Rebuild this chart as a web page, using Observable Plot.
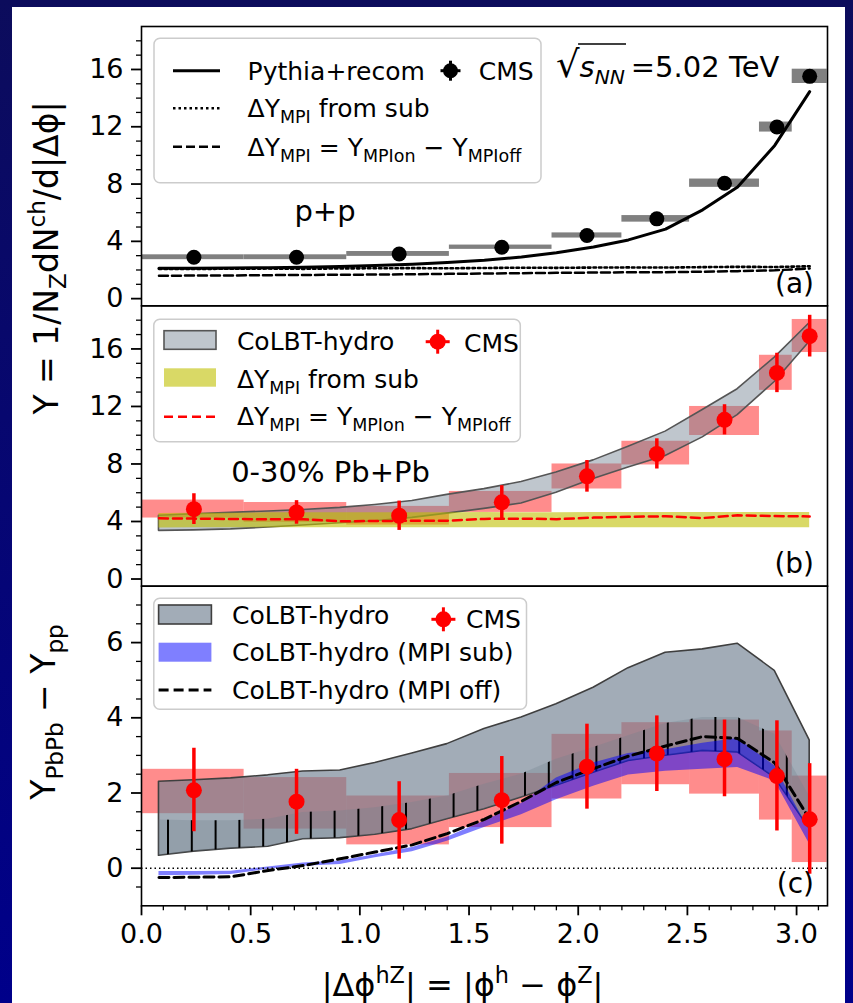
<!DOCTYPE html>
<html><head><meta charset="utf-8">
<script src="https://cdn.jsdelivr.net/npm/d3@7"></script>
<script src="https://cdn.jsdelivr.net/npm/@observablehq/plot@0.6"></script>
<style>
html,body{margin:0;padding:0;background:#000080;}
#wrap{position:relative;width:853px;height:1003px;overflow:hidden;background:linear-gradient(#0c0c5c,#00008a);}
#paper{position:absolute;left:12px;top:7px;width:833px;height:1010px;background:#fff;}
#wrap svg{position:absolute;left:0;top:0;}
</style></head><body><div id="wrap"><div id="paper"></div></div>
<script>
// ---------- data ----------
const binLo  = [0, 0.47, 0.94, 1.41, 1.88, 2.20, 2.51, 2.83, 2.98];
const binHi  = [0.47, 0.94, 1.41, 1.88, 2.20, 2.51, 2.83, 2.98, 3.14];
const binMid = [0.24, 0.71, 1.18, 1.65, 2.04, 2.36, 2.67, 2.91, 3.06];

// (a) p+p CMS
const ppY    = [2.89, 2.89, 3.12, 3.59, 4.41, 5.57, 8.06, 11.98, 15.52];
const ppStat = [0.15, 0.15, 0.15, 0.15, 0.15, 0.2, 0.25, 0.3, 0.35];
const ppSys  = [0.17, 0.17, 0.17, 0.15, 0.18, 0.23, 0.29, 0.35, 0.5];

// (b) 0-30% Pb+Pb CMS
const pbY     = [4.86, 4.63, 4.40, 5.33, 7.14, 8.70, 11.07, 14.33, 16.89];
const pbStat  = [1.07, 0.82, 1.02, 1.16, 1.10, 1.05, 1.05, 1.37, 1.45];
const pbSysLo = [4.24, 3.93, 3.75, 4.63, 6.26, 7.93, 9.98, 13.12, 15.75];
const pbSysHi = [5.49, 5.32, 5.05, 6.09, 8.00, 9.58, 12.00, 15.56, 18.05];

// (c) Y_PbPb - Y_pp CMS
const dY      = [2.07, 1.77, 1.28, 1.81, 2.70, 3.05, 2.90, 2.45, 1.30];
const dStatLo = [0.97, 0.90, 0.24, 0.64, 1.57, 2.04, 1.90, 0.99, -0.16];
const dStatHi = [3.19, 2.63, 2.30, 2.97, 3.83, 4.05, 3.94, 3.92, 2.78];
const dSysLo  = [1.45, 1.04, 0.62, 1.08, 1.84, 2.22, 1.97, 1.28, 0.15];
const dSysHi  = [2.63, 2.41, 1.92, 2.52, 3.56, 3.87, 3.94, 3.65, 2.45];

// model curves
const modelX = [0.08, 0.24, 0.41, 0.58, 0.74, 0.91, 1.07, 1.24, 1.40, 1.57, 1.74, 1.90, 2.07, 2.23, 2.40, 2.57, 2.73, 2.90, 3.06];
const pythiaRecom = [2.13, 2.13, 2.14, 2.16, 2.2, 2.25, 2.32, 2.4, 2.52, 2.68, 2.9, 3.2, 3.6, 4.1, 4.85, 6.2, 7.8, 10.7, 14.45];
const mpiSubPP    = [2.08, 2.07, 2.09, 2.1, 2.08, 2.11, 2.12, 2.13, 2.12, 2.14, 2.16, 2.15, 2.17, 2.18, 2.17, 2.2, 2.22, 2.21, 2.26];
const mpiOnOffPP  = [1.6, 1.61, 1.62, 1.64, 1.65, 1.67, 1.68, 1.7, 1.73, 1.75, 1.78, 1.8, 1.82, 1.84, 1.85, 1.88, 1.92, 1.98, 2.1];

const colbtHiB  = [4.40, 4.50, 4.60, 4.70, 4.80, 4.95, 5.15, 5.42, 5.85, 6.25, 6.75, 7.40, 8.25, 9.20, 10.25, 11.75, 13.2, 15.4, 17.8];
const colbtLoB  = [3.35, 3.38, 3.45, 3.58, 3.72, 3.88, 4.02, 4.25, 4.55, 4.88, 5.25, 6.00, 6.95, 7.75, 8.55, 9.85, 11.4, 13.7, 16.5];
const mpiSubLoB = [3.55, 3.56, 3.56, 3.57, 3.57, 3.56, 3.56, 3.57, 3.57, 3.56, 3.56, 3.57, 3.57, 3.56, 3.56, 3.57, 3.57, 3.56, 3.56];
const mpiSubHiB = [4.56, 4.57, 4.58, 4.6, 4.6, 4.6, 4.6, 4.6, 4.61, 4.62, 4.6, 4.6, 4.62, 4.62, 4.62, 4.63, 4.63, 4.63, 4.63];
const mpiOnOffB = [4.22, 4.2, 4.17, 4.16, 4.15, 4.02, 4.03, 4.05, 4.05, 4.18, 4.2, 4.16, 4.27, 4.33, 4.36, 4.24, 4.43, 4.38, 4.35];

const colbtHiC  = [2.30, 2.34, 2.39, 2.47, 2.57, 2.60, 2.80, 3.05, 3.30, 3.70, 4.01, 4.36, 4.80, 5.32, 5.73, 5.82, 5.97, 5.25, 3.40];
const colbtLoC  = [0.33, 0.44, 0.52, 0.57, 0.77, 0.80, 0.89, 1.04, 1.30, 1.57, 1.88, 2.19, 2.54, 2.85, 2.99, 3.12, 3.08, 2.41, 1.04];
const colbtMidC = [1.28, 1.26, 1.26, 1.30, 1.48, 1.52, 1.61, 1.75, 1.92, 2.23, 2.50, 2.90, 3.21, 3.52, 3.85, 4.01, 4.01, 3.56, 1.90];
const mpiSubLoC = [-0.20, -0.19, -0.17, -0.03, 0.05, 0.10, 0.28, 0.44, 0.72, 1.08, 1.42, 1.82, 2.18, 2.48, 2.58, 2.63, 2.68, 2.32, 0.64];
const mpiSubHiC = [-0.09, -0.09, -0.08, 0.03, 0.14, 0.19, 0.36, 0.55, 0.82, 1.25, 1.72, 2.40, 2.80, 3.05, 3.15, 3.32, 3.45, 2.72, 0.99];
const mpiOffC   = [-0.25, -0.24, -0.23, -0.06, 0.07, 0.25, 0.43, 0.62, 0.92, 1.30, 1.78, 2.28, 2.65, 2.98, 3.25, 3.50, 3.45, 2.80, 1.30];

// ticks
const yMajorAB = [0, 4, 8, 12, 16];
const yMinorAB = [1, 2, 3, 5, 6, 7, 9, 10, 11, 13, 14, 15, 17, 18];
const yMajorC  = [0, 2, 4, 6];
const yMinorC  = [-0.5, 0.5, 1, 1.5, 2.5, 3, 3.5, 4.5, 5, 5.5, 6.5, 7];
const xMajor   = [0, 0.5, 1.0, 1.5, 2.0, 2.5, 3.0];
const xMinor   = [0.1, 0.2, 0.3, 0.4, 0.6, 0.7, 0.8, 0.9, 1.1, 1.2, 1.3, 1.4, 1.6, 1.7, 1.8, 1.9, 2.1, 2.2, 2.3, 2.4, 2.6, 2.7, 2.8, 2.9, 3.1];

// ---------- tables ----------
const ppTab = binMid.map((x, i) => ({x, lo: binLo[i], hi: binHi[i], y: ppY[i], stat: ppStat[i], sys: ppSys[i]}));
const pbTab = binMid.map((x, i) => ({x, lo: binLo[i], hi: binHi[i], y: pbY[i], stat: pbStat[i], sLo: pbSysLo[i], sHi: pbSysHi[i]}));
const dTab  = binMid.map((x, i) => ({x, lo: binLo[i], hi: binHi[i], y: dY[i], eLo: dStatLo[i], eHi: dStatHi[i], sLo: dSysLo[i], sHi: dSysHi[i]}));
const mA = modelX.map((x, i) => ({x, pythia: pythiaRecom[i], sub: mpiSubPP[i], onoff: mpiOnOffPP[i]}));
const mB = modelX.map((x, i) => ({x, hi: colbtHiB[i], lo: colbtLoB[i], sLo: mpiSubLoB[i], sHi: mpiSubHiB[i], onoff: mpiOnOffB[i]}));
const mC = modelX.map((x, i) => ({x, hi: colbtHiC[i], lo: colbtLoC[i], mid: colbtMidC[i], sLo: mpiSubLoC[i], sHi: mpiSubHiC[i], off: mpiOffC[i]}));

// ---------- layout ----------
const W = 853, H = 1003, X0 = 141, X1 = 827;
const FONT = "'DejaVu Sans', 'Liberation Sans', sans-serif";
const style = {background: "transparent", fontFamily: FONT, fontSize: "27px", color: "black", overflow: "visible"};

function yAxes(major, minor) {
  return [
    Plot.axisY(minor, {tickSize: 5, tickFormat: () => "", label: null, strokeWidth: 1.3}),
    Plot.axisY(major, {tickSize: 10, tickPadding: 8, label: null, strokeWidth: 1.8}),
    Plot.frame({stroke: "black", strokeWidth: 1.6})
  ];
}
function panel(top, bottom, yDomain, showX, marks) {
  return Plot.plot({
    width: W, height: H,
    marginLeft: X0, marginRight: W - X1, marginTop: top, marginBottom: H - bottom,
    x: showX ? {domain: [0, Math.PI]} : {domain: [0, Math.PI], axis: null},
    y: {domain: yDomain},
    style,
    marks
  });
}

const wrap = document.getElementById("wrap");

// (a)
const plotA = panel(26, 305.3, [-0.5, 19], false, [
  Plot.rect(ppTab, {x1: "lo", x2: "hi", y1: d => d.y - d.sys, y2: d => d.y + d.sys, fill: "#808080"}),
  Plot.line(mA, {x: "x", y: "onoff", stroke: "black", strokeWidth: 2.5, strokeDasharray: "9,4"}),
  Plot.line(mA, {x: "x", y: "sub", stroke: "black", strokeWidth: 2.6, strokeDasharray: "2.5,3"}),
  Plot.line(mA, {x: "x", y: "pythia", stroke: "black", strokeWidth: 3}),
  Plot.ruleX(ppTab, {x: "x", y1: d => d.y - d.stat, y2: d => d.y + d.stat, stroke: "black", strokeWidth: 3}),
  Plot.dot(ppTab, {x: "x", y: "y", r: 7.5, fill: "black"}),
  ...yAxes(yMajorAB, yMinorAB)
]);

// (b)
const plotB = panel(305.3, 585.7, [-0.5, 19], false, [
  Plot.rect(pbTab, {x1: "lo", x2: "hi", y1: "sLo", y2: "sHi", fill: "red", fillOpacity: 0.45}),
  Plot.areaY(mB, {x: "x", y1: "lo", y2: "hi", fill: "#708090", fillOpacity: 0.45, stroke: "#555555", strokeWidth: 1.6}),
  Plot.areaY(mB, {x: "x", y1: "sLo", y2: "sHi", fill: "#bfbf00", fillOpacity: 0.6}),
  Plot.line(mB, {x: "x", y: "onoff", stroke: "red", strokeWidth: 2.5, strokeDasharray: "9,5"}),
  Plot.ruleX(pbTab, {x: "x", y1: d => d.y - d.stat, y2: d => d.y + d.stat, stroke: "red", strokeWidth: 3.5}),
  Plot.dot(pbTab, {x: "x", y: "y", r: 8, fill: "red"}),
  ...yAxes(yMajorAB, yMinorAB)
]);

// (c)
const plotC = panel(585.7, 905.3, [-1, 7.5], true, [
  Plot.rect(dTab, {x1: "lo", x2: "hi", y1: "sLo", y2: "sHi", fill: "red", fillOpacity: 0.45}),
  Plot.areaY(mC, {x: "x", y1: "lo", y2: "hi", fill: "#708090", fillOpacity: 0.65, stroke: "#3f3f3f", strokeWidth: 1.6}),
  Plot.areaY(mC, {x: "x", y1: "lo", y2: "mid", fill: "#708090", fillOpacity: 0.3}),
  Plot.areaY(mC, {x: "x", y1: "lo", y2: "mid", fill: "url(#hatchV)"}),
  Plot.areaY(mC, {x: "x", y1: "sLo", y2: "sHi", fill: "blue", fillOpacity: 0.5}),
  Plot.ruleY([0], {stroke: "black", strokeWidth: 1.5, strokeDasharray: "1.5,3"}),
  Plot.line(mC, {x: "x", y: "off", stroke: "black", strokeWidth: 3, strokeDasharray: "10,5"}),
  Plot.ruleX(dTab, {x: "x", y1: "eLo", y2: "eHi", stroke: "red", strokeWidth: 3.5}),
  Plot.dot(dTab, {x: "x", y: "y", r: 8, fill: "red"}),
  Plot.axisX(xMinor, {tickSize: 5, tickFormat: () => "", label: null, strokeWidth: 1.3}),
  Plot.axisX(xMajor, {tickSize: 10, tickPadding: 8, tickFormat: d3.format(".1f"), label: null, strokeWidth: 1.8}),
  ...yAxes(yMajorC, yMinorC)
]);
{
  const ns = "http://www.w3.org/2000/svg";
  const defs = document.createElementNS(ns, "defs");
  const pat = document.createElementNS(ns, "pattern");
  pat.setAttribute("id", "hatchV");
  pat.setAttribute("patternUnits", "userSpaceOnUse");
  pat.setAttribute("x", "167"); pat.setAttribute("y", "0");
  pat.setAttribute("width", "23.8"); pat.setAttribute("height", "10");
  const r = document.createElementNS(ns, "rect");
  r.setAttribute("x", "0"); r.setAttribute("y", "0"); r.setAttribute("width", "2"); r.setAttribute("height", "10");
  r.setAttribute("fill", "black");
  pat.appendChild(r); defs.appendChild(pat);
  plotC.insertBefore(defs, plotC.firstChild);
}
wrap.append(plotA, plotB, plotC);

// ---------- overlay: legends and labels ----------
const ov = d3.select(wrap).append("svg").attr("width", W).attr("height", H)
  .style("font-family", FONT);

function mtext(x, y, parts, fs, opts = {}) {
  const t = ov.append("text").attr("x", x).attr("y", y).attr("font-size", fs).attr("fill", "black");
  if (opts.anchor) t.attr("text-anchor", opts.anchor);
  if (opts.transform) t.attr("transform", opts.transform).attr("x", 0).attr("y", 0);
  let shift = 0;
  for (const p of parts) {
    const s = t.append("tspan").text(p.t);
    const target = p.sub ? 0.24 * fs : p.sup ? -0.4 * fs : 0;
    if (target !== shift) { s.attr("dy", target - shift); shift = target; }
    if (p.sub || p.sup) s.attr("font-size", fs * 0.7);
    if (p.size) s.attr("font-size", p.size);
    if (p.it) s.attr("font-style", "italic");
  }
  return t;
}
function box(x0, y0, x1, y1) {
  ov.append("rect").attr("x", x0).attr("y", y0).attr("width", x1 - x0).attr("height", y1 - y0)
    .attr("rx", 6).attr("fill", "white").attr("fill-opacity", 0.8).attr("stroke", "#cccccc").attr("stroke-width", 1.5);
}
function hline(x0, x1, y, color, w, dash) {
  const l = ov.append("line").attr("x1", x0).attr("x2", x1).attr("y1", y).attr("y2", y)
    .attr("stroke", color).attr("stroke-width", w);
  if (dash) l.attr("stroke-dasharray", dash);
}
function patch(x0, y0, x1, y1, fill, op, stroke) {
  const r = ov.append("rect").attr("x", x0).attr("y", y0).attr("width", x1 - x0).attr("height", y1 - y0)
    .attr("fill", fill).attr("fill-opacity", op);
  if (stroke) r.attr("stroke", stroke).attr("stroke-width", 1.6);
}
function cms(cx, cy, color, half, r) {
  hline(cx - half, cx + half, cy, color, 3);
  ov.append("line").attr("x1", cx).attr("x2", cx).attr("y1", cy - half).attr("y2", cy + half).attr("stroke", color).attr("stroke-width", 3);
  ov.append("circle").attr("cx", cx).attr("cy", cy).attr("r", r).attr("fill", color);
}
const LF = 25;
const dYmpi = [{t: "ΔY"}, {t: "MPI", sub: true}];
const dYeq = [{t: "ΔY"}, {t: "MPI", sub: true}, {t: " = Y"}, {t: "MPIon", sub: true}, {t: " − Y"}, {t: "MPIoff", sub: true}];

// legend (a)
box(154, 38.3, 541, 182.7);
hline(173, 220, 70.7, "black", 3);
mtext(247.6, 79.8, [{t: "Pythia+recom"}], LF);
cms(450.5, 70.7, "black", 10, 7.5);
mtext(478.8, 79.8, [{t: "CMS"}], LF);
hline(173, 220, 108.3, "black", 2.6, "2.5,3");
mtext(247.6, 117.4, [...dYmpi, {t: " from sub"}], LF);
hline(173, 220, 146.7, "black", 2.5, "9,4");
mtext(247.6, 155.8, dYeq, LF);

// legend (b)
box(153.8, 319.3, 520.3, 441.7);
patch(164, 330.7, 216, 349.3, "#708090", 0.45, "#555555");
mtext(236.9, 350, [{t: "CoLBT-hydro"}], LF);
cms(437.7, 341.7, "red", 12, 8);
mtext(464, 351.6, [{t: "CMS"}], LF);
patch(164, 368.3, 216, 386.7, "#bfbf00", 0.6);
mtext(236.9, 387.6, [...dYmpi, {t: " from sub"}], LF);
hline(164, 216, 416.7, "red", 2.5, "9,5");
mtext(236.9, 425, dYeq, LF);

// legend (c)
box(153.8, 598.3, 526.5, 709.3);
patch(158.6, 605, 211.4, 624, "#708090", 0.65, "#3f3f3f");
mtext(232, 623.6, [{t: "CoLBT-hydro"}], LF);
cms(443.4, 619.3, "red", 12, 8);
mtext(466, 628.4, [{t: "CMS"}], LF);
patch(158.6, 642.7, 211.4, 661.7, "blue", 0.5);
mtext(232, 660.8, [{t: "CoLBT-hydro (MPI sub)"}], LF);
hline(158.6, 211.4, 690, "black", 3, "10,5");
mtext(232, 699.4, [{t: "CoLBT-hydro (MPI off)"}], LF);

// annotations
mtext(325, 221, [{t: "p+p"}], 29, {anchor: "middle"});
mtext(330.5, 481.5, [{t: "0-30% Pb+Pb"}], 29, {anchor: "middle"});
mtext(814, 293, [{t: "(a)"}], 28, {anchor: "end"});
mtext(814, 573, [{t: "(b)"}], 28, {anchor: "end"});
mtext(814, 893, [{t: "(c)"}], 28, {anchor: "end"});

// sqrt(s_NN) = 5.02 TeV
{
  const t = mtext(556, 77, [{t: "√", size: 37}, {t: "s", it: true}, {t: "NN", it: true, sub: true}, {t: "\u2009=5.02 TeV"}], 29);
  const node = t.node();
  const e0 = node.getExtentOfChar(0), e3 = node.getExtentOfChar(3);
  hline(e0.x + e0.width - 1.5, e3.x + e3.width + 1, 44, "black", 1.6);
}

// axis labels
mtext(462.5, 996, [{t: "|Δϕ"}, {t: "hZ", sup: true}, {t: "| = |ϕ"}, {t: "h", sup: true}, {t: " − ϕ"}, {t: "Z", sup: true}, {t: "|"}], 32, {anchor: "middle"});
mtext(0, 0, [{t: "Y = 1/N"}, {t: "Z", sub: true}, {t: "dN"}, {t: "ch", sup: true}, {t: "/d|Δϕ|"}], 33, {anchor: "middle", transform: "translate(58,258) rotate(-90)"});
mtext(0, 0, [{t: "Y"}, {t: "PbPb", sub: true}, {t: " − Y"}, {t: "pp", sub: true}], 33, {anchor: "middle", transform: "translate(55,712) rotate(-90)"});
</script></body></html>
